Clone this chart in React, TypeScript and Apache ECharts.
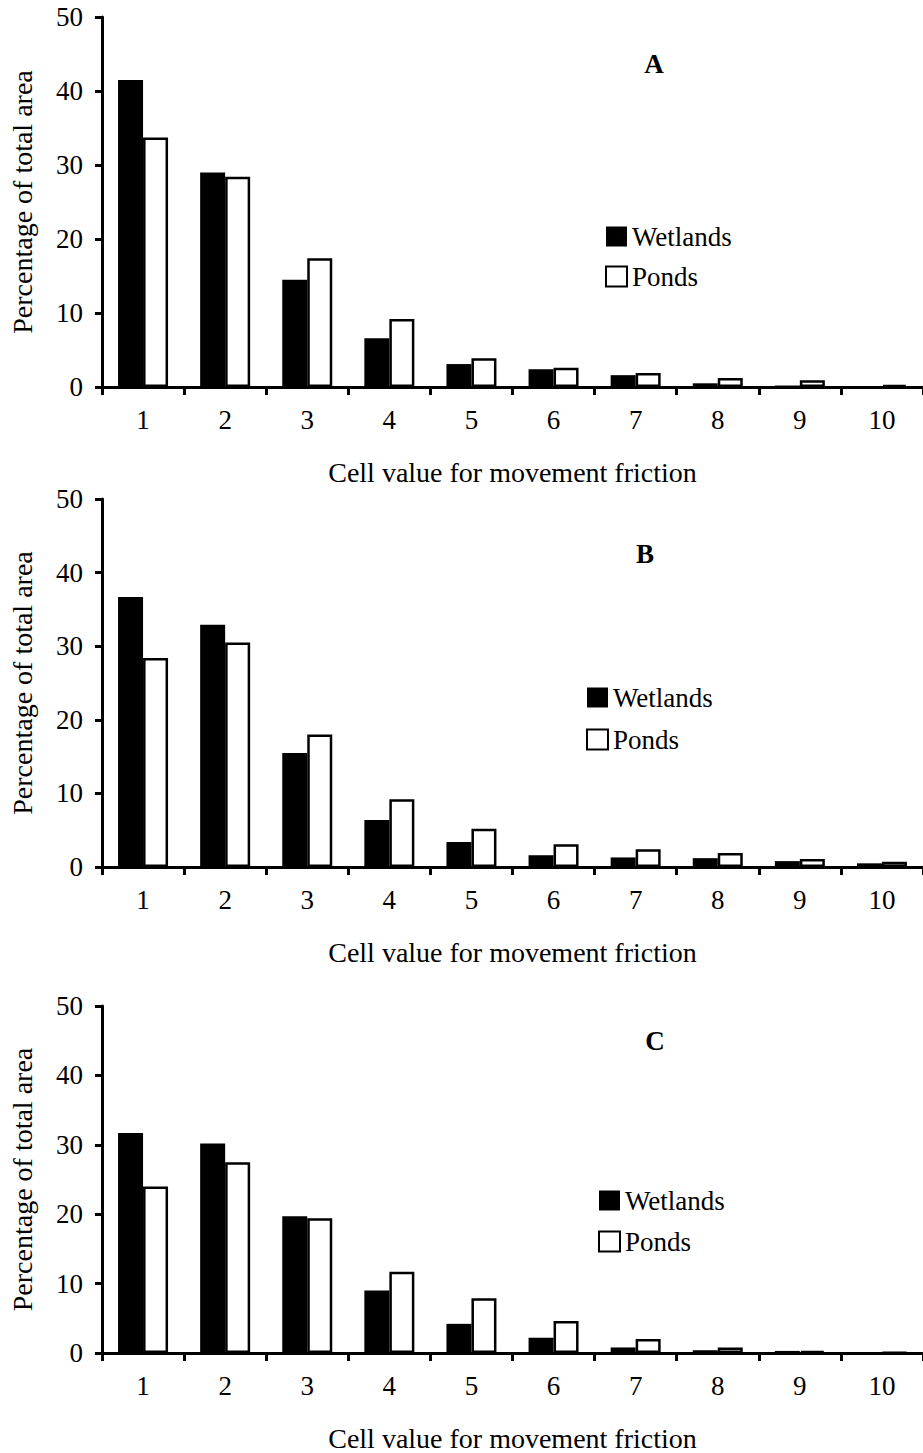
import React, { useEffect, useRef } from "react";
import * as echarts from "echarts";

const categories = ["1", "2", "3", "4", "5", "6", "7", "8", "9", "10"];
const panelLabels = ["A", "B", "C"];
const seriesNames = ["Wetlands", "Ponds"];

const wetlandsA = [41.5, 29.0, 14.5, 6.6, 3.1, 2.4, 1.6, 0.5, 0.2, 0.1];
const pondsA = [33.7, 28.4, 17.4, 9.2, 3.9, 2.6, 1.9, 1.2, 0.9, 0.3];
const wetlandsB = [36.7, 32.9, 15.5, 6.4, 3.4, 1.6, 1.3, 1.2, 0.8, 0.5];
const pondsB = [28.4, 30.5, 18.0, 9.2, 5.2, 3.1, 2.4, 1.9, 1.1, 0.7];
const wetlandsC = [31.7, 30.2, 19.7, 9.0, 4.2, 2.2, 0.8, 0.4, 0.3, 0.1];
const pondsC = [24.0, 27.5, 19.4, 11.7, 7.9, 4.6, 2.0, 0.8, 0.3, 0.1];

const yTicks = [0, 10, 20, 30, 40, 50];
const xTitle = "Cell value for movement friction";
const yTitle = "Percentage of total area";

const FONT = "Liberation Serif";

export default function App() {
  const ref = useRef<HTMLDivElement>(null);
  useEffect(() => {
    if (!ref.current) return;
    const chart = echarts.init(ref.current, null, { renderer: "svg" });
    const data = [
      [wetlandsA, pondsA],
      [wetlandsB, pondsB],
      [wetlandsC, pondsC],
    ];
    const grids = [
      { left: 100, top: 17, width: 825, height: 370 },
      { left: 100, top: 499, width: 825, height: 368 },
      { left: 100, top: 1006, width: 825, height: 356 },
    ];
    const legendPos = [
      { left: 605, top: 223, gap: 13 },
      { left: 586, top: 684, gap: 15 },
      { left: 598, top: 1187, gap: 14 },
    ];
    const letterPos = [
      { x: 654, y: 64 },
      { x: 645, y: 554 },
      { x: 655, y: 1041 },
    ];
    const axisLine = { show: true, lineStyle: { color: "#000", width: 3 } };
    const textStyle = { fontFamily: FONT, fontSize: 27, color: "#000" };

    const xAxis: any[] = [];
    const yAxis: any[] = [];
    const series: any[] = [];
    const legend: any[] = [];
    const graphic: any[] = [];

    grids.forEach((g, i) => {
      xAxis.push({
        type: "category",
        gridIndex: i,
        data: categories,
        boundaryGap: true,
        axisLine,
        axisTick: { show: true, interval: 0, length: 8, inside: false, lineStyle: { color: "#000", width: 3 } },
        axisLabel: { ...textStyle, interval: 0, margin: 19 },
        name: xTitle,
        nameLocation: "middle",
        nameGap: 71,
        nameTextStyle: { ...textStyle, fontSize: 28 },
      });
      yAxis.push({
        type: "value",
        gridIndex: i,
        min: yTicks[0],
        max: yTicks[yTicks.length - 1],
        interval: 10,
        splitLine: { show: false },
        axisLine,
        axisTick: { show: true, length: 7, lineStyle: { color: "#000", width: 3 } },
        axisLabel: { ...textStyle, margin: 19 },
        name: yTitle,
        nameLocation: "middle",
        nameGap: 66,
        nameTextStyle: { ...textStyle, fontSize: 28 },
      });
      const [w, p] = data[i];
      series.push({
        type: "bar",
        name: seriesNames[0],
        xAxisIndex: i,
        yAxisIndex: i,
        data: w,
        barWidth: 25,
        barGap: "0%",
        itemStyle: { color: "#000" },
      });
      series.push({
        type: "bar",
        name: seriesNames[1],
        xAxisIndex: i,
        yAxisIndex: i,
        data: p,
        barWidth: 25,
        barGap: "0%",
        itemStyle: { color: "#fff", borderColor: "#000", borderWidth: 2.5 },
      });
      const lp = legendPos[i];
      legend.push({
        orient: "vertical",
        left: lp.left,
        top: lp.top,
        itemWidth: 21,
        itemHeight: 20,
        itemGap: lp.gap,
        padding: 0,
        icon: "rect",
        data: seriesNames,
        selectedMode: false,
        textStyle: { ...textStyle },
      });
      graphic.push({
        type: "text",
        x: letterPos[i].x,
        y: letterPos[i].y,
        style: {
          text: panelLabels[i],
          fontFamily: FONT,
          fontSize: 27,
          fontWeight: "bold",
          fill: "#000",
          align: "center",
          verticalAlign: "middle",
        },
      });
    });

    chart.setOption({
      animation: false,
      backgroundColor: "#fff",
      grid: grids,
      xAxis,
      yAxis,
      series,
      legend,
      graphic,
    });
    return () => chart.dispose();
  }, []);
  return (
    <div
      ref={ref}
      style={{ position: "absolute", left: 0, top: 0, width: 923, height: 1453 }}
    />
  );
}
